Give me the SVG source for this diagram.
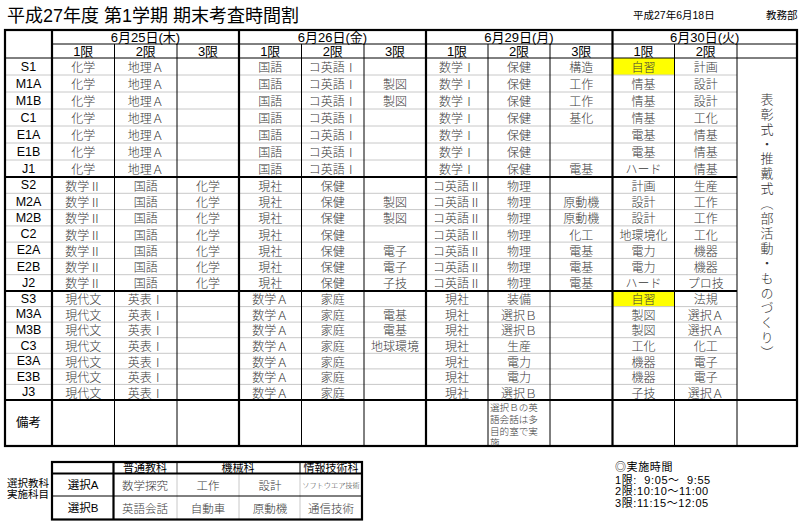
<svg xmlns="http://www.w3.org/2000/svg" width="800" height="521" viewBox="0 0 800 521">
<defs>
<style>
text{font-family:"Liberation Sans","Noto Sans CJK JP",sans-serif;fill:#000}
.title{font-size:18px}
.sm{font-size:10.5px}
.h{font-size:13px;text-anchor:middle;dominant-baseline:central}
.lab{font-size:12.5px;text-anchor:middle;dominant-baseline:central}
.s{font-family:"Noto Sans CJK JP",sans-serif;font-size:12px;fill:#3a3a3a;text-anchor:middle;dominant-baseline:central;font-weight:300}
.s2{font-family:"Noto Sans CJK JP",sans-serif;font-size:11.5px;fill:#3a3a3a;text-anchor:middle;dominant-baseline:central;font-weight:300}
.bh{font-size:11px;text-anchor:middle;dominant-baseline:central}
.note{font-family:"Noto Sans CJK JP",sans-serif;font-size:9.6px;fill:#3a3a3a;font-weight:300}
.tm{font-size:11px;white-space:pre;letter-spacing:0.6px}
.g{stroke:#c8c8c8;stroke-width:1;fill:none}
.k{stroke:#000;stroke-width:1;fill:none}
.K{stroke:#000;stroke-width:2.2;fill:none}
.y{fill:#ffff00}
</style>
<clipPath id="rc"><rect x="488" y="400" width="62" height="46"/></clipPath>
</defs>
<rect width="800" height="521" fill="#fff"/>

<g id="heading">
<text class="title" x="7" y="22">平成27年度 第1学期 期末考査時間割</text>
<text class="sm" x="633" y="19">平成27年6月18日</text>
<text class="sm" x="766" y="19">教務部</text>
</g>

<g id="highlights">
<rect class="y" x="612.5" y="58" width="62" height="17"/>
<rect class="y" x="612.5" y="291" width="62" height="15.6"/>
</g>

<g id="grid">
<path class="g" d="M5 75H737M5 92H737M5 109H737M5 126H737M5 143H737M5 160H737"/>
<path class="g" d="M5 193.3H737M5 209.6H737M5 225.9H737M5 242.1H737M5 258.4H737M5 274.7H737"/>
<path class="g" d="M5 306.6H737M5 322.1H737M5 337.7H737M5 353.3H737M5 368.9H737M5 384.4H737"/>
<path class="k" d="M114.5 44V446M177 44V446M301.5 44V446M364 44V446M488 44V446M550 44V446M674.5 44V446M737 44V446"/>
<path class="k" d="M52 44H797"/>
<path class="k" stroke-width="1.4" d="M5 58H797"/>
<path class="K" d="M5 177H737M5 291H737M5 400H797"/>
<path class="K" d="M52 30V446M239 30V446M426 30V446M612.5 30V446"/>
<rect class="K" x="5" y="30" width="792" height="416"/>
</g>

<g id="header">
<text class="h" x="145.5" y="37">6月25日(木)</text>
<text class="h" x="332.5" y="37">6月26日(金)</text>
<text class="h" x="519" y="37">6月29日(月)</text>
<text class="h" x="704.75" y="37">6月30日(火)</text>
<text class="h" x="83.25" y="51">1限</text>
<text class="h" x="145.75" y="51">2限</text>
<text class="h" x="208" y="51">3限</text>
<text class="h" x="270.25" y="51">1限</text>
<text class="h" x="332.75" y="51">2限</text>
<text class="h" x="395" y="51">3限</text>
<text class="h" x="457" y="51">1限</text>
<text class="h" x="519" y="51">2限</text>
<text class="h" x="581.25" y="51">3限</text>
<text class="h" x="643.5" y="51">1限</text>
<text class="h" x="705.75" y="51">2限</text>
</g>

<g id="row-S1">
<text class="lab" x="28.5" y="66.5">S1</text>
<text class="s" x="83.25" y="66.5">化学</text><text class="s" x="145.75" y="66.5">地理Ａ</text>
<text class="s" x="270.25" y="66.5">国語</text><text class="s" x="332.75" y="66.5">コ英語Ⅰ</text>
<text class="s" x="457" y="66.5">数学Ⅰ</text><text class="s" x="519" y="66.5">保健</text><text class="s" x="581.25" y="66.5">構造</text>
<text class="s" x="643.5" y="66.5">自習</text><text class="s" x="705.75" y="66.5">計画</text>
</g>
<g id="row-M1A">
<text class="lab" x="28.5" y="83.5">M1A</text>
<text class="s" x="83.25" y="83.5">化学</text><text class="s" x="145.75" y="83.5">地理Ａ</text>
<text class="s" x="270.25" y="83.5">国語</text><text class="s" x="332.75" y="83.5">コ英語Ⅰ</text><text class="s" x="395" y="83.5">製図</text>
<text class="s" x="457" y="83.5">数学Ⅰ</text><text class="s" x="519" y="83.5">保健</text><text class="s" x="581.25" y="83.5">工作</text>
<text class="s" x="643.5" y="83.5">情基</text><text class="s" x="705.75" y="83.5">設計</text>
</g>
<g id="row-M1B">
<text class="lab" x="28.5" y="100.5">M1B</text>
<text class="s" x="83.25" y="100.5">化学</text><text class="s" x="145.75" y="100.5">地理Ａ</text>
<text class="s" x="270.25" y="100.5">国語</text><text class="s" x="332.75" y="100.5">コ英語Ⅰ</text><text class="s" x="395" y="100.5">製図</text>
<text class="s" x="457" y="100.5">数学Ⅰ</text><text class="s" x="519" y="100.5">保健</text><text class="s" x="581.25" y="100.5">工作</text>
<text class="s" x="643.5" y="100.5">情基</text><text class="s" x="705.75" y="100.5">設計</text>
</g>
<g id="row-C1">
<text class="lab" x="28.5" y="117.5">C1</text>
<text class="s" x="83.25" y="117.5">化学</text><text class="s" x="145.75" y="117.5">地理Ａ</text>
<text class="s" x="270.25" y="117.5">国語</text><text class="s" x="332.75" y="117.5">コ英語Ⅰ</text>
<text class="s" x="457" y="117.5">数学Ⅰ</text><text class="s" x="519" y="117.5">保健</text><text class="s" x="581.25" y="117.5">基化</text>
<text class="s" x="643.5" y="117.5">情基</text><text class="s" x="705.75" y="117.5">工化</text>
</g>
<g id="row-E1A">
<text class="lab" x="28.5" y="134.5">E1A</text>
<text class="s" x="83.25" y="134.5">化学</text><text class="s" x="145.75" y="134.5">地理Ａ</text>
<text class="s" x="270.25" y="134.5">国語</text><text class="s" x="332.75" y="134.5">コ英語Ⅰ</text>
<text class="s" x="457" y="134.5">数学Ⅰ</text><text class="s" x="519" y="134.5">保健</text>
<text class="s" x="643.5" y="134.5">電基</text><text class="s" x="705.75" y="134.5">情基</text>
</g>
<g id="row-E1B">
<text class="lab" x="28.5" y="151.5">E1B</text>
<text class="s" x="83.25" y="151.5">化学</text><text class="s" x="145.75" y="151.5">地理Ａ</text>
<text class="s" x="270.25" y="151.5">国語</text><text class="s" x="332.75" y="151.5">コ英語Ⅰ</text>
<text class="s" x="457" y="151.5">数学Ⅰ</text><text class="s" x="519" y="151.5">保健</text>
<text class="s" x="643.5" y="151.5">電基</text><text class="s" x="705.75" y="151.5">情基</text>
</g>
<g id="row-J1">
<text class="lab" x="28.5" y="168.5">J1</text>
<text class="s" x="83.25" y="168.5">化学</text><text class="s" x="145.75" y="168.5">地理Ａ</text>
<text class="s" x="270.25" y="168.5">国語</text><text class="s" x="332.75" y="168.5">コ英語Ⅰ</text>
<text class="s" x="457" y="168.5">数学Ⅰ</text><text class="s" x="519" y="168.5">保健</text><text class="s" x="581.25" y="168.5">電基</text>
<text class="s" x="643.5" y="168.5">ハード</text><text class="s" x="705.75" y="168.5">情基</text>
</g>

<g id="row-S2">
<text class="lab" x="28.5" y="185.2">S2</text>
<text class="s" x="83.25" y="185.2">数学Ⅱ</text><text class="s" x="145.75" y="185.2">国語</text><text class="s" x="208" y="185.2">化学</text>
<text class="s" x="270.25" y="185.2">現社</text><text class="s" x="332.75" y="185.2">保健</text>
<text class="s" x="457" y="185.2">コ英語Ⅱ</text><text class="s" x="519" y="185.2">物理</text>
<text class="s" x="643.5" y="185.2">計画</text><text class="s" x="705.75" y="185.2">生産</text>
</g>
<g id="row-M2A">
<text class="lab" x="28.5" y="201.5">M2A</text>
<text class="s" x="83.25" y="201.5">数学Ⅱ</text><text class="s" x="145.75" y="201.5">国語</text><text class="s" x="208" y="201.5">化学</text>
<text class="s" x="270.25" y="201.5">現社</text><text class="s" x="332.75" y="201.5">保健</text><text class="s" x="395" y="201.5">製図</text>
<text class="s" x="457" y="201.5">コ英語Ⅱ</text><text class="s" x="519" y="201.5">物理</text><text class="s" x="581.25" y="201.5">原動機</text>
<text class="s" x="643.5" y="201.5">設計</text><text class="s" x="705.75" y="201.5">工作</text>
</g>
<g id="row-M2B">
<text class="lab" x="28.5" y="217.8">M2B</text>
<text class="s" x="83.25" y="217.8">数学Ⅱ</text><text class="s" x="145.75" y="217.8">国語</text><text class="s" x="208" y="217.8">化学</text>
<text class="s" x="270.25" y="217.8">現社</text><text class="s" x="332.75" y="217.8">保健</text><text class="s" x="395" y="217.8">製図</text>
<text class="s" x="457" y="217.8">コ英語Ⅱ</text><text class="s" x="519" y="217.8">物理</text><text class="s" x="581.25" y="217.8">原動機</text>
<text class="s" x="643.5" y="217.8">設計</text><text class="s" x="705.75" y="217.8">工作</text>
</g>
<g id="row-C2">
<text class="lab" x="28.5" y="234">C2</text>
<text class="s" x="83.25" y="234">数学Ⅱ</text><text class="s" x="145.75" y="234">国語</text><text class="s" x="208" y="234">化学</text>
<text class="s" x="270.25" y="234">現社</text><text class="s" x="332.75" y="234">保健</text>
<text class="s" x="457" y="234">コ英語Ⅱ</text><text class="s" x="519" y="234">物理</text><text class="s" x="581.25" y="234">化工</text>
<text class="s" x="643.5" y="234">地環境化</text><text class="s" x="705.75" y="234">工化</text>
</g>
<g id="row-E2A">
<text class="lab" x="28.5" y="250.3">E2A</text>
<text class="s" x="83.25" y="250.3">数学Ⅱ</text><text class="s" x="145.75" y="250.3">国語</text><text class="s" x="208" y="250.3">化学</text>
<text class="s" x="270.25" y="250.3">現社</text><text class="s" x="332.75" y="250.3">保健</text><text class="s" x="395" y="250.3">電子</text>
<text class="s" x="457" y="250.3">コ英語Ⅱ</text><text class="s" x="519" y="250.3">物理</text><text class="s" x="581.25" y="250.3">電基</text>
<text class="s" x="643.5" y="250.3">電力</text><text class="s" x="705.75" y="250.3">機器</text>
</g>
<g id="row-E2B">
<text class="lab" x="28.5" y="266.6">E2B</text>
<text class="s" x="83.25" y="266.6">数学Ⅱ</text><text class="s" x="145.75" y="266.6">国語</text><text class="s" x="208" y="266.6">化学</text>
<text class="s" x="270.25" y="266.6">現社</text><text class="s" x="332.75" y="266.6">保健</text><text class="s" x="395" y="266.6">電子</text>
<text class="s" x="457" y="266.6">コ英語Ⅱ</text><text class="s" x="519" y="266.6">物理</text><text class="s" x="581.25" y="266.6">電基</text>
<text class="s" x="643.5" y="266.6">電力</text><text class="s" x="705.75" y="266.6">機器</text>
</g>
<g id="row-J2">
<text class="lab" x="28.5" y="282.9">J2</text>
<text class="s" x="83.25" y="282.9">数学Ⅱ</text><text class="s" x="145.75" y="282.9">国語</text><text class="s" x="208" y="282.9">化学</text>
<text class="s" x="270.25" y="282.9">現社</text><text class="s" x="332.75" y="282.9">保健</text><text class="s" x="395" y="282.9">子技</text>
<text class="s" x="457" y="282.9">コ英語Ⅱ</text><text class="s" x="519" y="282.9">物理</text><text class="s" x="581.25" y="282.9">電基</text>
<text class="s" x="643.5" y="282.9">ハード</text><text class="s" x="705.75" y="282.9">プロ技</text>
</g>

<g id="row-S3">
<text class="lab" x="28.5" y="298.8">S3</text>
<text class="s" x="83.25" y="298.8">現代文</text><text class="s" x="145.75" y="298.8">英表Ⅰ</text>
<text class="s" x="270.25" y="298.8">数学Ａ</text><text class="s" x="332.75" y="298.8">家庭</text>
<text class="s" x="457" y="298.8">現社</text><text class="s" x="519" y="298.8">装備</text>
<text class="s" x="643.5" y="298.8">自習</text><text class="s" x="705.75" y="298.8">法規</text>
</g>
<g id="row-M3A">
<text class="lab" x="28.5" y="314.4">M3A</text>
<text class="s" x="83.25" y="314.4">現代文</text><text class="s" x="145.75" y="314.4">英表Ⅰ</text>
<text class="s" x="270.25" y="314.4">数学Ａ</text><text class="s" x="332.75" y="314.4">家庭</text><text class="s" x="395" y="314.4">電基</text>
<text class="s" x="457" y="314.4">現社</text><text class="s" x="519" y="314.4">選択Ｂ</text>
<text class="s" x="643.5" y="314.4">製図</text><text class="s" x="705.75" y="314.4">選択Ａ</text>
</g>
<g id="row-M3B">
<text class="lab" x="28.5" y="329.9">M3B</text>
<text class="s" x="83.25" y="329.9">現代文</text><text class="s" x="145.75" y="329.9">英表Ⅰ</text>
<text class="s" x="270.25" y="329.9">数学Ａ</text><text class="s" x="332.75" y="329.9">家庭</text><text class="s" x="395" y="329.9">電基</text>
<text class="s" x="457" y="329.9">現社</text><text class="s" x="519" y="329.9">選択Ｂ</text>
<text class="s" x="643.5" y="329.9">製図</text><text class="s" x="705.75" y="329.9">選択Ａ</text>
</g>
<g id="row-C3">
<text class="lab" x="28.5" y="345.5">C3</text>
<text class="s" x="83.25" y="345.5">現代文</text><text class="s" x="145.75" y="345.5">英表Ⅰ</text>
<text class="s" x="270.25" y="345.5">数学Ａ</text><text class="s" x="332.75" y="345.5">家庭</text><text class="s" x="395" y="345.5">地球環境</text>
<text class="s" x="457" y="345.5">現社</text><text class="s" x="519" y="345.5">生産</text>
<text class="s" x="643.5" y="345.5">工化</text><text class="s" x="705.75" y="345.5">化工</text>
</g>
<g id="row-E3A">
<text class="lab" x="28.5" y="361.1">E3A</text>
<text class="s" x="83.25" y="361.1">現代文</text><text class="s" x="145.75" y="361.1">英表Ⅰ</text>
<text class="s" x="270.25" y="361.1">数学Ａ</text><text class="s" x="332.75" y="361.1">家庭</text>
<text class="s" x="457" y="361.1">現社</text><text class="s" x="519" y="361.1">電力</text>
<text class="s" x="643.5" y="361.1">機器</text><text class="s" x="705.75" y="361.1">電子</text>
</g>
<g id="row-E3B">
<text class="lab" x="28.5" y="376.6">E3B</text>
<text class="s" x="83.25" y="376.6">現代文</text><text class="s" x="145.75" y="376.6">英表Ⅰ</text>
<text class="s" x="270.25" y="376.6">数学Ａ</text><text class="s" x="332.75" y="376.6">家庭</text>
<text class="s" x="457" y="376.6">現社</text><text class="s" x="519" y="376.6">電力</text>
<text class="s" x="643.5" y="376.6">機器</text><text class="s" x="705.75" y="376.6">電子</text>
</g>
<g id="row-J3">
<text class="lab" x="28.5" y="392.2">J3</text>
<text class="s" x="83.25" y="392.2">現代文</text><text class="s" x="145.75" y="392.2">英表Ⅰ</text>
<text class="s" x="270.25" y="392.2">数学Ａ</text><text class="s" x="332.75" y="392.2">家庭</text>
<text class="s" x="457" y="392.2">現社</text><text class="s" x="519" y="392.2">選択Ｂ</text>
<text class="s" x="643.5" y="392.2">子技</text><text class="s" x="705.75" y="392.2">選択Ａ</text>
</g>

<g id="merged-event">
<text x="767" y="226.5" style="writing-mode:vertical-rl;font-family:'Noto Sans CJK JP',sans-serif;font-size:13px;fill:#333;text-anchor:middle;letter-spacing:1.9px;font-weight:300">表彰式・推戴式（部活動・ものづくり）</text>
</g>

<g id="row-remarks">
<text class="lab" x="28.5" y="423">備考</text>
<g clip-path="url(#rc)">
<text class="note" x="490" y="411.4">選択Ｂの英</text>
<text class="note" x="490" y="423">語会話は多</text>
<text class="note" x="490" y="434.6">目的室で実</text>
<text class="note" x="490" y="446.2">施</text>
</g>
</g>

<g id="elective-table">
<path class="g" d="M177 473.5V519.5M239 473.5V519.5M300 473.5V519.5"/>
<path class="k" d="M177 462V473.5M300 462V473.5M52 496H362"/>
<path class="K" d="M52 473.5H362M113.5 462V519.5"/>
<rect class="K" x="52" y="462" width="310" height="57.5"/>
<text class="bh" x="145" y="468">普通教科</text>
<text class="bh" x="238" y="468">機械科</text>
<text class="bh" x="331" y="468">情報技術科</text>
<text class="lab" x="83" y="484.5" style="font-size:11.5px">選択A</text>
<text class="s2" x="145" y="484.5">数学探究</text>
<text class="s2" x="208" y="484.5">工作</text>
<text class="s2" x="270" y="484.5">設計</text>
<text class="s2" x="331" y="484.5" style="font-size:7.2px">ソフトウエア技術</text>
<text class="lab" x="83" y="508" style="font-size:11.5px">選択B</text>
<text class="s2" x="145" y="508">英語会話</text>
<text class="s2" x="208" y="508">自動車</text>
<text class="s2" x="270" y="508">原動機</text>
<text class="s2" x="331" y="508">通信技術</text>
</g>

<g id="side-label">
<text class="sm" x="7" y="487">選択教科</text>
<text class="sm" x="7" y="498">実施科目</text>
</g>

<g id="times">
<text class="tm" x="615" y="470.5">◎実施時間</text>
<text class="tm" x="615" y="483.5">1限:  9:05～  9:55</text>
<text class="tm" x="615" y="495">2限:10:10～11:00</text>
<text class="tm" x="615" y="506.5">3限:11:15～12:05</text>
</g>
</svg>
